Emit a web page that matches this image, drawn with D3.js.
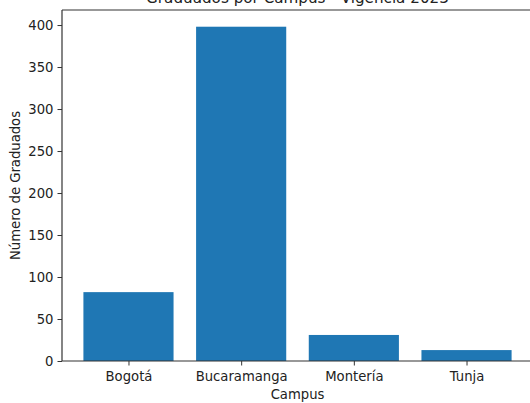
<!DOCTYPE html>
<html>
<head>
<meta charset="utf-8">
<script src="https://cdn.jsdelivr.net/npm/d3@7"></script>
<style>
  html, body { margin: 0; padding: 0; background: #fff; overflow: hidden; }
  svg { display: block; font-family: "DejaVu Sans", sans-serif; }
</style>
</head>
<body>
<div id="chart"></div>
<script>
var campuses = ["Bogotá", "Bucaramanga", "Montería", "Tunja"];
var graduates = [82, 398, 31, 13];
var yTicks = [0, 50, 100, 150, 200, 250, 300, 350, 400];
var title = "Graduados por Campus - Vigencia 2023";

var W = 530, H = 403;
var m = { left: 62, right: 533, top: 10, bottom: 361 };

var svg = d3.select("#chart").append("svg")
  .attr("width", W).attr("height", H);

// band-like linear scale, matplotlib style margins
var x = d3.scaleLinear().domain([-0.59, campuses.length - 1 + 0.59]).range([m.left, m.right]);
var y = d3.scaleLinear().domain([0, d3.max(graduates) * 1.05]).range([m.bottom, m.top]);

svg.append("g").selectAll("rect")
  .data(graduates)
  .join("rect")
  .attr("x", function (d, i) { return x(i - 0.4); })
  .attr("width", function (d, i) { return x(i + 0.4) - x(i - 0.4); })
  .attr("y", function (d) { return y(d); })
  .attr("height", function (d) { return y(0) - y(d); })
  .attr("fill", "#1f77b4");

var yAxis = svg.append("g")
  .attr("transform", "translate(" + m.left + ",0)")
  .call(d3.axisLeft(y).tickValues(yTicks).tickSize(4.5).tickPadding(4).tickFormat(d3.format("d")));

var xAxis = svg.append("g")
  .attr("transform", "translate(0," + m.bottom + ")")
  .call(d3.axisBottom(x).tickValues(d3.range(campuses.length)).tickSize(4.5).tickPadding(6)
    .tickFormat(function (d) { return campuses[d]; }));

[yAxis, xAxis].forEach(function (a) {
  a.select(".domain").remove();
  a.selectAll("line").attr("stroke", "#333").attr("stroke-width", 1);
  a.selectAll("text").attr("fill", "#222").attr("font-size", 13.2).attr("font-family", "DejaVu Sans, sans-serif");
});

// spines (the right one sits outside the cropped frame, so it is left out)
var spines = [
  [m.left, m.top, m.left, m.bottom],
  [m.left, m.bottom, W, m.bottom],
  [m.left, m.top, W, m.top]
];
svg.append("g").selectAll("line")
  .data(spines)
  .join("line")
  .attr("x1", function (d) { return d[0]; })
  .attr("y1", function (d) { return d[1]; })
  .attr("x2", function (d) { return d[2]; })
  .attr("y2", function (d) { return d[3]; })
  .attr("stroke", "#333").attr("stroke-width", 1.2);

svg.append("text")
  .attr("x", (m.left + m.right) / 2).attr("y", 3)
  .attr("text-anchor", "middle")
  .attr("font-size", 15.2).attr("fill", "#222")
  .text(title);

svg.append("text")
  .attr("x", (m.left + m.right) / 2).attr("y", 399)
  .attr("text-anchor", "middle")
  .attr("font-size", 13.2).attr("fill", "#222")
  .text("Campus");

svg.append("text")
  .attr("transform", "translate(20," + (m.top + m.bottom) / 2 + ") rotate(-90)")
  .attr("text-anchor", "middle")
  .attr("font-size", 13.2).attr("fill", "#222")
  .text("Número de Graduados");
</script>
</body>
</html>
